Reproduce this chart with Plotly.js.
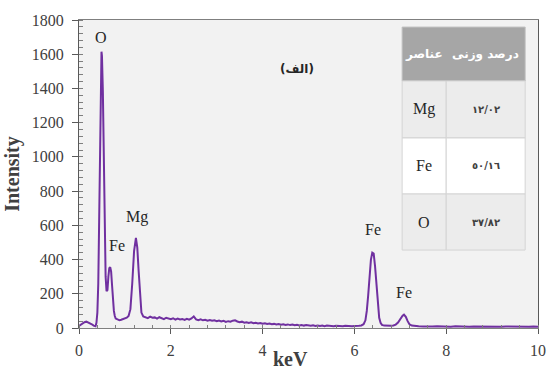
<!DOCTYPE html>
<html>
<head>
<meta charset="utf-8">
<script src="https://cdn.plot.ly/plotly-3.0.1.min.js"></script>
<style>html,body{margin:0;padding:0;background:#fff;}#chart{width:548px;height:372px;}</style>
</head>
<body>
<div id="chart"></div>
<script>
// Spectrum energies (keV) and intensities
const energyKeV = [
0.00,0.04,0.08,0.12,0.16,0.20,0.24,0.28,0.32,0.36,
0.38,0.40,0.42,0.44,0.46,0.48,0.49,0.50,0.52,0.54,0.56,0.58,0.60,0.62,0.64,0.66,0.68,0.70,0.72,0.74,0.76,0.78,0.80,
0.84,0.88,0.92,0.96,1.00,1.04,1.08,1.12,1.16,1.20,1.24,1.27,1.30,1.33,1.36,1.40,
1.45,1.50,1.55,1.60,1.65,1.70,1.75,1.80,1.85,1.90,1.95,2.00,2.05,2.10,2.15,2.20,2.25,2.30,2.35,2.40,2.45,2.50,2.55,2.60,2.65,2.70,2.75,2.80,2.85,2.90,2.95,
3.00,3.05,3.10,3.15,3.20,3.25,3.30,3.35,3.40,3.45,3.50,3.55,3.60,3.65,3.70,3.75,3.80,3.85,3.90,3.95,
4.00,4.05,4.10,4.15,4.20,4.25,4.30,4.35,4.40,4.45,4.50,4.55,4.60,4.65,4.70,4.75,4.80,4.85,4.90,4.95,
5.00,5.05,5.10,5.15,5.20,5.25,5.30,5.35,5.40,5.45,5.50,5.55,5.60,5.65,5.70,5.75,5.80,5.85,5.90,5.95,
6.00,6.05,6.10,6.15,6.20,6.24,6.27,6.30,6.33,6.36,6.39,6.42,6.45,6.48,6.51,6.54,6.57,6.60,6.65,6.70,6.75,6.80,6.85,6.90,6.95,
7.00,7.05,7.08,7.12,7.16,7.20,7.25,7.30,7.40,7.50,7.60,7.70,7.80,7.90,
8.00,8.10,8.20,8.30,8.40,8.50,8.60,8.70,8.80,8.90,9.00,9.10,9.20,9.30,9.40,9.50,9.60,9.70,9.80,9.90,10.00
];
const intensity = [
12,20,28,34,37,33,30,22,14,10,
30,90,260,620,1080,1480,1615,1590,1380,980,560,300,215,222,300,350,356,330,250,160,100,70,55,
50,45,48,52,55,60,70,110,260,450,526,470,330,170,90,68,
64,58,66,60,62,55,63,58,52,60,54,52,57,49,55,50,53,47,54,49,56,68,50,46,51,45,48,43,47,42,45,
40,44,38,42,36,40,37,43,45,38,34,37,31,34,30,33,28,31,27,29,
25,28,23,26,22,24,20,23,19,22,18,21,17,20,16,19,15,18,14,17,
15,13,16,12,15,12,14,11,14,12,13,10,13,11,12,10,13,11,12,10,
12,11,13,15,22,45,100,190,310,400,440,435,360,240,130,60,30,18,14,13,12,13,15,20,32,
55,72,78,65,40,22,14,12,10,9,11,9,10,8,
9,8,10,8,9,7,9,8,10,8,9,8,7,9,8,10,8,9,8,9,8
];

// Peak labels
const peakLabels = ['O', 'Fe', 'Mg', 'Fe', 'Fe'];
const peakLabelX = [0.48, 0.83, 1.26, 6.41, 7.07];
const peakLabelY = [1700, 480, 650, 575, 205];

// Table contents
const tableHeader = ['عناصر', 'درصد وزنی'];
const tableElements = ['Mg', 'Fe', 'O'];
const tableWeightPct = ['١٢/٠٢', '٥٠/١٦', '٣٧/٨٢'];
const panelLabel = '(الف)';

const serif = '"Liberation Serif", "Times New Roman", serif';
const arabic = '"DejaVu Sans", sans-serif';

// Table geometry (paper coords)
const tx0 = 0.704, tx1 = 0.800, tx2 = 0.972;
const ty = [0.977, 0.802, 0.617, 0.435, 0.253];
const rowFill = ['#ececec', '#ffffff', '#ececec'];

const shapes = [];
const annotations = [];
function cellText(x, y, text, font) {
  annotations.push({xref:'paper', yref:'paper', x:x, y:y, xanchor:'center', yanchor:'middle',
    text:text, showarrow:false, font:font});
}

// header
shapes.push({type:'rect', xref:'paper', yref:'paper', x0:tx0, x1:tx2, y0:ty[1], y1:ty[0],
  fillcolor:'#a6a6a6', line:{color:'#bfbfbf', width:1}, layer:'above'});
cellText((tx0+tx1)/2, (ty[0]+ty[1])/2, '<b>'+tableHeader[0]+'</b>', {family:arabic, size:12, color:'#ffffff'});
cellText((tx1+tx2)/2, (ty[0]+ty[1])/2, '<b>'+tableHeader[1]+'</b>', {family:arabic, size:12, color:'#ffffff'});
for (let i = 0; i < tableElements.length; i++) {
  shapes.push({type:'rect', xref:'paper', yref:'paper', x0:tx0, x1:tx1, y0:ty[i+2], y1:ty[i+1],
    fillcolor:rowFill[i], line:{color:'#d4d4d4', width:1}, layer:'above'});
  shapes.push({type:'rect', xref:'paper', yref:'paper', x0:tx1, x1:tx2, y0:ty[i+2], y1:ty[i+1],
    fillcolor:rowFill[i], line:{color:'#d4d4d4', width:1}, layer:'above'});
  cellText((tx0+tx1)/2, (ty[i+1]+ty[i+2])/2, tableElements[i], {family:serif, size:16, color:'#262626'});
  cellText((tx1+tx2)/2, (ty[i+1]+ty[i+2])/2, '<b>'+tableWeightPct[i]+'</b>', {family:arabic, size:10, color:'#404040'});
}

// peak labels
for (let i = 0; i < peakLabels.length; i++) {
  annotations.push({x:peakLabelX[i], y:peakLabelY[i], xref:'x', yref:'y', text:peakLabels[i],
    xanchor:'center', yanchor:'middle', showarrow:false, font:{family:serif, size:16, color:'#262626'}});
}
annotations.push({x:4.74, y:1515, xref:'x', yref:'y', text:'<b>'+panelLabel+'</b>', showarrow:false,
  xanchor:'center', yanchor:'middle', font:{family:arabic, size:12, color:'#262626'}});
// x axis title
annotations.push({xref:'paper', yref:'paper', x:0.46, y:-0.1429, xanchor:'center', yanchor:'bottom',
  text:'<b>keV</b>', showarrow:false, font:{family:serif, size:20, color:'#404040'}});

const trace = {
  x: energyKeV, y: intensity, type:'scatter', mode:'lines',
  line:{color:'#7030a0', width:2}, hoverinfo:'skip'
};

const layout = {
  width:548, height:372,
  margin:{l:79, r:10, t:20, b:44},
  paper_bgcolor:'#ffffff', plot_bgcolor:'#f2f2f2',
  showlegend:false,
  font:{family:serif},
  xaxis:{range:[0,10], dtick:2, tick0:0, showgrid:false, zeroline:false,
    showline:true, linecolor:'#7f7f7f', linewidth:1, mirror:true,
    ticks:'outside', ticklen:5, tickcolor:'#595959', ticklabelstandoff:3,
    minor:{dtick:0.4, tick0:0, ticks:'inside', ticklen:3, tickcolor:'#7f7f7f', showgrid:false},
    tickfont:{family:serif, size:16, color:'#404040'}},
  yaxis:{range:[0,1800], dtick:200, tick0:0, showgrid:false, zeroline:false,
    showline:true, linecolor:'#595959', linewidth:1, mirror:true,
    ticks:'outside', ticklen:6, tickcolor:'#595959', ticklabelstandoff:5,
    minor:{dtick:40, tick0:0, ticks:'inside', ticklen:4, tickcolor:'#7f7f7f', showgrid:false},
    tickfont:{family:serif, size:16, color:'#404040'},
    title:{text:'<b>Intensity</b>', font:{family:serif, size:20, color:'#404040'}, standoff:6}},
  shapes: shapes,
  annotations: annotations
};

Plotly.newPlot('chart', [trace], layout, {staticPlot:true, displayModeBar:false});
</script>
</body>
</html>
